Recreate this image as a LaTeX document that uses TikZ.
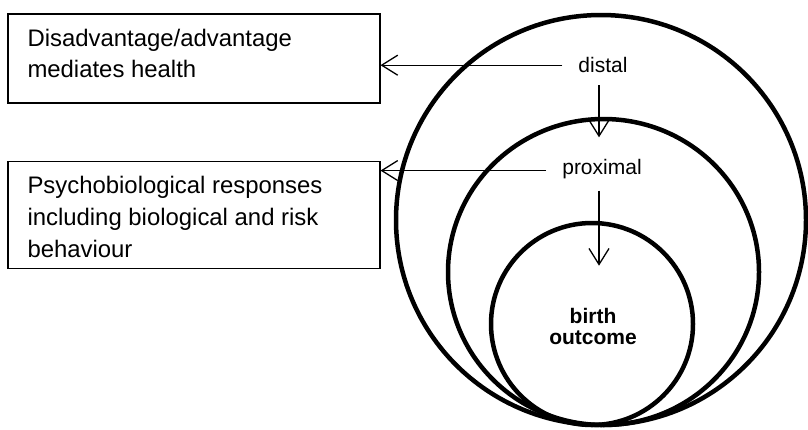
\documentclass[tikz,border=0pt]{standalone}
\usepackage{fontspec}
\setmainfont{Liberation Sans}
\usetikzlibrary{arrows.meta}
\begin{document}
\begin{tikzpicture}[x=1pt,y=-1pt,
  ring/.style={line width=4.5pt},
  infobox/.style={draw, line width=1.2pt, rectangle, minimum width=372pt,
    anchor=north west, inner sep=0pt},
  boxtext/.style={anchor=base west, inner sep=0pt, align=left,
    font=\fontsize{23.9}{31.7}\selectfont},
  level/.style={anchor=base, font=\fontsize{21}{21}\selectfont,
    inner xsep=16pt, inner ysep=12pt},
  core/.style={anchor=base, align=center, inner sep=0pt,
    font=\bfseries\fontsize{21}{20.7}\selectfont},
  link/.style={line width=1.3pt,
    -{Straight Barb[length=16pt,width=20pt,line width=1.3pt]}}
]
\useasboundingbox (0,0) rectangle (808,429);

% nested rings, all touching at the bottom
\draw[ring] (601,220) ellipse [x radius=205pt, y radius=205pt];
\draw[ring] (603.5,272) ellipse [x radius=155.5pt, y radius=153pt];
\draw[ring] (592,324) ellipse [x radius=101pt, y radius=101pt];

% explanatory boxes (text placed by the baseline of its last line)
\node[infobox, minimum height=89pt] (box1) at (7.3,13.3) {};
\node[boxtext] (txt1) at (27.3,77.7) {Disadvantage/advantage\\mediates health};
\node[infobox, minimum height=107pt] (box2) at (7.3,160.7) {};
\node[boxtext] (txt2) at (27.3,257.3) {Psychobiological responses\\including biological and risk\\behaviour};

% ring labels
\node[level] (distal) at (603,72.7) {distal};
\node[level] (proximal) at (602,174) {proximal};
\node[core] (birth) at (593,344) {birth\\outcome};

% connectors
\coordinate (t1) at (599,137.3);
\coordinate (t2) at (599,265.7);
\draw[link] (distal.west) -- (distal.west -| box1.east);
\draw[link] ([yshift=-2pt]proximal.west) -- ([yshift=-2pt]proximal.west -| box2.east);
\draw[link] (distal.south -| t1) -- (t1);
\draw[link] (proximal.south -| t2) -- (t2);
\end{tikzpicture}
\end{document}
